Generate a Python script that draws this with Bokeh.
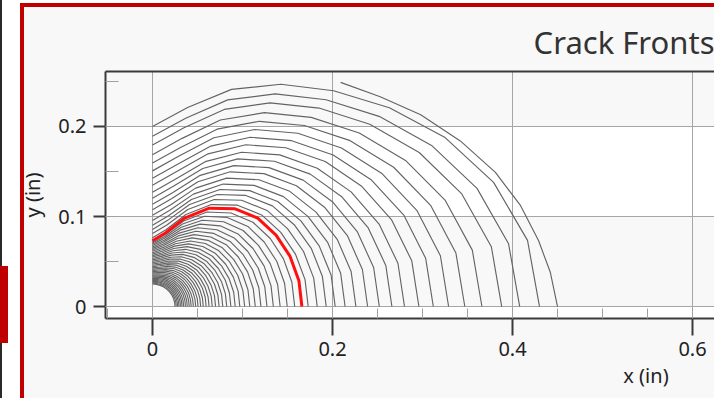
import numpy as np
from bokeh.plotting import figure
from bokeh.models import (BoxAnnotation, LinearAxis, SingleIntervalTicker, FixedTicker, Range1d)
from bokeh.embed import file_html
from bokeh.resources import INLINE

# ---------------- data ----------------
TITLE = "Crack Fronts"
X_LABEL = "x (in)"
Y_LABEL = "y (in)"
X_TICK_STEP = 0.2
Y_TICK_STEP = 0.1

# each crack front is given as its radius from the corner at these angles
ANGLES_DEG = [0, 10, 20, 30, 40, 50, 60, 70, 80, 90]

INNER_FRONT_RADII = [
    [0.0250, 0.0250, 0.0250, 0.0250, 0.0250, 0.0250, 0.0250, 0.0250, 0.0250, 0.0250],
    [0.0264, 0.0264, 0.0264, 0.0264, 0.0263, 0.0263, 0.0262, 0.0261, 0.0260, 0.0260],
    [0.0279, 0.0279, 0.0279, 0.0278, 0.0278, 0.0277, 0.0275, 0.0273, 0.0271, 0.0270],
    [0.0294, 0.0294, 0.0294, 0.0293, 0.0292, 0.0290, 0.0288, 0.0285, 0.0281, 0.0280],
    [0.0311, 0.0311, 0.0310, 0.0309, 0.0308, 0.0306, 0.0302, 0.0298, 0.0293, 0.0291],
    [0.0328, 0.0328, 0.0327, 0.0326, 0.0324, 0.0321, 0.0317, 0.0311, 0.0305, 0.0302],
    [0.0346, 0.0346, 0.0345, 0.0343, 0.0341, 0.0337, 0.0332, 0.0324, 0.0316, 0.0313],
    [0.0366, 0.0366, 0.0365, 0.0363, 0.0360, 0.0355, 0.0348, 0.0339, 0.0329, 0.0325],
    [0.0386, 0.0386, 0.0384, 0.0382, 0.0379, 0.0373, 0.0365, 0.0353, 0.0342, 0.0337],
    [0.0408, 0.0407, 0.0406, 0.0403, 0.0400, 0.0393, 0.0383, 0.0369, 0.0356, 0.0349],
    [0.0430, 0.0429, 0.0428, 0.0424, 0.0420, 0.0412, 0.0401, 0.0385, 0.0369, 0.0361],
    [0.0454, 0.0453, 0.0451, 0.0448, 0.0443, 0.0433, 0.0420, 0.0401, 0.0383, 0.0374],
    [0.0480, 0.0479, 0.0477, 0.0473, 0.0467, 0.0456, 0.0440, 0.0419, 0.0398, 0.0388],
    [0.0506, 0.0505, 0.0502, 0.0497, 0.0491, 0.0479, 0.0461, 0.0436, 0.0412, 0.0401],
    [0.0535, 0.0534, 0.0531, 0.0525, 0.0518, 0.0504, 0.0484, 0.0456, 0.0428, 0.0415],
    [0.0564, 0.0563, 0.0559, 0.0553, 0.0545, 0.0529, 0.0506, 0.0475, 0.0443, 0.0430],
    [0.0596, 0.0595, 0.0591, 0.0584, 0.0574, 0.0556, 0.0531, 0.0495, 0.0460, 0.0443],
    [0.0629, 0.0627, 0.0623, 0.0615, 0.0605, 0.0585, 0.0556, 0.0516, 0.0476, 0.0458],
    [0.0664, 0.0662, 0.0657, 0.0649, 0.0637, 0.0614, 0.0582, 0.0538, 0.0493, 0.0473],
    [0.0701, 0.0699, 0.0693, 0.0684, 0.0671, 0.0646, 0.0610, 0.0560, 0.0511, 0.0488],
    [0.0740, 0.0738, 0.0732, 0.0721, 0.0706, 0.0679, 0.0638, 0.0583, 0.0529, 0.0503],
    [0.0781, 0.0779, 0.0772, 0.0760, 0.0744, 0.0713, 0.0669, 0.0608, 0.0547, 0.0518],
    [0.0825, 0.0822, 0.0815, 0.0802, 0.0783, 0.0750, 0.0700, 0.0633, 0.0566, 0.0534],
    [0.0871, 0.0868, 0.0860, 0.0845, 0.0825, 0.0788, 0.0734, 0.0659, 0.0585, 0.0550],
    [0.0919, 0.0916, 0.0906, 0.0891, 0.0869, 0.0828, 0.0768, 0.0686, 0.0604, 0.0566],
    [0.0970, 0.0967, 0.0956, 0.0939, 0.0915, 0.0870, 0.0804, 0.0714, 0.0623, 0.0582],
    [0.1024, 0.1020, 0.1009, 0.0990, 0.0963, 0.0914, 0.0841, 0.0742, 0.0644, 0.0598],
    [0.1081, 0.1077, 0.1064, 0.1043, 0.1014, 0.0960, 0.0881, 0.0772, 0.0664, 0.0614],
    [0.1142, 0.1137, 0.1124, 0.1101, 0.1069, 0.1009, 0.0923, 0.0804, 0.0685, 0.0630],
    [0.1205, 0.1200, 0.1185, 0.1160, 0.1125, 0.1060, 0.0965, 0.0835, 0.0706, 0.0646],
    [0.1272, 0.1267, 0.1250, 0.1223, 0.1185, 0.1114, 0.1010, 0.0868, 0.0727, 0.0661],
    [0.1343, 0.1337, 0.1319, 0.1289, 0.1248, 0.1170, 0.1057, 0.0903, 0.0748, 0.0677],
    [0.1418, 0.1412, 0.1392, 0.1360, 0.1314, 0.1230, 0.1107, 0.0938, 0.0770, 0.0692],
    [0.1497, 0.1490, 0.1469, 0.1433, 0.1384, 0.1292, 0.1158, 0.0975, 0.0791, 0.0706],
    [0.1580, 0.1572, 0.1549, 0.1511, 0.1457, 0.1357, 0.1212, 0.1012, 0.0812, 0.0720],
]

HIGHLIGHT_FRONT_RADII = [0.1660, 0.1652, 0.1627, 0.1585, 0.1527, 0.1419, 0.1262, 0.1046, 0.0830, 0.0730]

OUTER_FRONT_RADII = [
    [0.1730, 0.1721, 0.1692, 0.1646, 0.1583, 0.1470, 0.1308, 0.1087, 0.0867, 0.0763],
    [0.1830, 0.1819, 0.1786, 0.1732, 0.1661, 0.1541, 0.1373, 0.1147, 0.0919, 0.0810],
    [0.1930, 0.1917, 0.1879, 0.1818, 0.1739, 0.1611, 0.1437, 0.1206, 0.0972, 0.0857],
    [0.2030, 0.2015, 0.1971, 0.1904, 0.1816, 0.1681, 0.1501, 0.1265, 0.1024, 0.0904],
    [0.2140, 0.2123, 0.2073, 0.1997, 0.1900, 0.1757, 0.1571, 0.1329, 0.1083, 0.0956],
    [0.2260, 0.2241, 0.2184, 0.2098, 0.1991, 0.1839, 0.1647, 0.1400, 0.1146, 0.1013],
    [0.2390, 0.2368, 0.2304, 0.2207, 0.2088, 0.1927, 0.1728, 0.1476, 0.1215, 0.1074],
    [0.2520, 0.2495, 0.2423, 0.2316, 0.2185, 0.2014, 0.1808, 0.1551, 0.1284, 0.1136],
    [0.2660, 0.2632, 0.2551, 0.2432, 0.2288, 0.2107, 0.1894, 0.1632, 0.1359, 0.1203],
    [0.2800, 0.2769, 0.2679, 0.2548, 0.2390, 0.2199, 0.1979, 0.1713, 0.1434, 0.1270],
    [0.2960, 0.2925, 0.2825, 0.2679, 0.2506, 0.2302, 0.2075, 0.1805, 0.1520, 0.1347],
    [0.3120, 0.3082, 0.2971, 0.2810, 0.2620, 0.2405, 0.2171, 0.1897, 0.1606, 0.1425],
    [0.3290, 0.3248, 0.3125, 0.2948, 0.2741, 0.2513, 0.2271, 0.1995, 0.1697, 0.1507],
    [0.3470, 0.3423, 0.3288, 0.3094, 0.2867, 0.2626, 0.2376, 0.2097, 0.1794, 0.1594],
    [0.3660, 0.3608, 0.3459, 0.3246, 0.2999, 0.2743, 0.2487, 0.2205, 0.1897, 0.1686],
    [0.3880, 0.3823, 0.3657, 0.3422, 0.3151, 0.2878, 0.2613, 0.2330, 0.2016, 0.1794],
    [0.4080, 0.4017, 0.3837, 0.3580, 0.3287, 0.2999, 0.2727, 0.2443, 0.2125, 0.1892],
    [0.4300, 0.4231, 0.4033, 0.3754, 0.3436, 0.3130, 0.2851, 0.2567, 0.2245, 0.2000],
]

# last front, cut at the back surface
EDGE_FRONT_X = [0.209, 0.253, 0.298, 0.342, 0.381, 0.409, 0.429, 0.442, 0.450]
EDGE_FRONT_Y = [0.249, 0.233, 0.213, 0.184, 0.149, 0.112, 0.073, 0.038, 0.000]

# ---------------- drawing ----------------
FONT = "Noto Sans"
theta = np.radians(ANGLES_DEG)


def to_xy(radii):
    r = np.asarray(radii, dtype=float)
    return (r * np.cos(theta)).tolist(), (r * np.sin(theta)).tolist()


gray_xs, gray_ys = [], []
for rad in INNER_FRONT_RADII + OUTER_FRONT_RADII:
    xx, yy = to_xy(rad)
    gray_xs.append(xx)
    gray_ys.append(yy)
gray_xs.append(EDGE_FRONT_X)
gray_ys.append(EDGE_FRONT_Y)
red_x, red_y = to_xy(HIGHLIGHT_FRONT_RADII)

X0, X1 = -0.0522, 0.6244
Y0, Y1 = -0.0133, 0.2611

# the panel around the chart: side tab, window edge line, red panel border, light panel fill
panel_styles = {
    "background": ("linear-gradient(#c00000, #c00000) 0px 266px / 8px 77px no-repeat, "
                   "linear-gradient(#2a2a2a, #2a2a2a) 0px 0px / 2px 100% no-repeat, "
                   "linear-gradient(#c00000, #c00000) 20px 3px / 4px 100% no-repeat, "
                   "linear-gradient(#c00000, #c00000) 20px 3px / 100% 4px no-repeat, "
                   "linear-gradient(#f8f8f8, #f8f8f8) 24px 7px / 100% 100% no-repeat, "
                   "#ffffff"),
}

p = figure(width=714, height=398, output_backend="svg", toolbar_location=None,
           x_range=Range1d(X0, X1), y_range=Range1d(Y0, Y1),
           min_border_left=105, min_border_right=0, min_border_top=71, min_border_bottom=80,
           background_fill_color="white", border_fill_alpha=0,
           outline_line_color=None, title=TITLE, title_location="above",
           styles=panel_styles)

p.title.text_font = FONT
p.title.text_font_size = "31px"
p.title.text_font_style = "normal"
p.title.text_color = "#333333"
p.title.align = "right"
p.title.standoff = 18

# alternating horizontal bands
p.add_layout(BoxAnnotation(bottom=0.2, fill_color="#f8f8f8", fill_alpha=1, line_color=None, level="image"))
p.add_layout(BoxAnnotation(bottom=0.0, top=0.1, fill_color="#f8f8f8", fill_alpha=1, line_color=None, level="image"))

xt = SingleIntervalTicker(interval=X_TICK_STEP, num_minor_ticks=4)
yt = SingleIntervalTicker(interval=Y_TICK_STEP, num_minor_ticks=2)
p.xaxis.ticker = xt
p.yaxis.ticker = yt
p.xgrid.ticker = xt
p.ygrid.ticker = yt
p.xgrid.grid_line_color = "#a6a6a6"
p.ygrid.grid_line_color = "#a6a6a6"

for ax in (p.xaxis[0], p.yaxis[0]):
    ax.axis_line_color = "#3a3a3a"
    ax.axis_line_width = 2
    ax.major_tick_line_color = "#3a3a3a"
    ax.major_tick_line_width = 2
    ax.major_tick_in = 0
    ax.minor_tick_line_color = "#a0a0a0"
    ax.minor_tick_line_width = 1
    ax.minor_tick_out = 0
    ax.major_label_text_font = FONT
    ax.major_label_text_font_size = "20px"
    ax.major_label_text_color = "#222222"
    ax.major_label_overrides = {0: "0"}

p.xaxis.major_tick_out = 17
p.xaxis.minor_tick_in = 10
p.xaxis.major_label_standoff = 6
p.yaxis.major_tick_out = 12
p.yaxis.minor_tick_in = 13
p.yaxis.major_label_standoff = 7
p.yaxis.axis_label = Y_LABEL
p.yaxis.axis_label_text_font = FONT
p.yaxis.axis_label_text_font_size = "20px"
p.yaxis.axis_label_text_font_style = "normal"
p.yaxis.axis_label_text_color = "#222222"
p.yaxis.axis_label_standoff = 9

# top edge of the plot area
top_axis = LinearAxis(ticker=FixedTicker(ticks=[]), axis_line_color="#3a3a3a", axis_line_width=2,
                      major_tick_line_color=None, minor_tick_line_color=None)
p.add_layout(top_axis, "above")

# x-axis title sits under the right-hand part of the axis in the source
X_LABEL_AT = 0.5483
label_axis = LinearAxis(ticker=FixedTicker(ticks=[X_LABEL_AT]),
                        major_label_overrides={X_LABEL_AT: X_LABEL},
                        axis_line_color=None, major_tick_line_color=None, minor_tick_line_color=None,
                        major_tick_out=0, major_tick_in=0, major_label_standoff=3,
                        major_label_text_font=FONT, major_label_text_font_size="20px",
                        major_label_text_color="#222222")
p.add_layout(label_axis, "below")

p.multi_line(xs=gray_xs, ys=gray_ys, line_color="#646464", line_width=1.15)
p.line(red_x, red_y, line_color="#ff1010", line_width=3)

open("out.html", "w").write(file_html(p, INLINE))
